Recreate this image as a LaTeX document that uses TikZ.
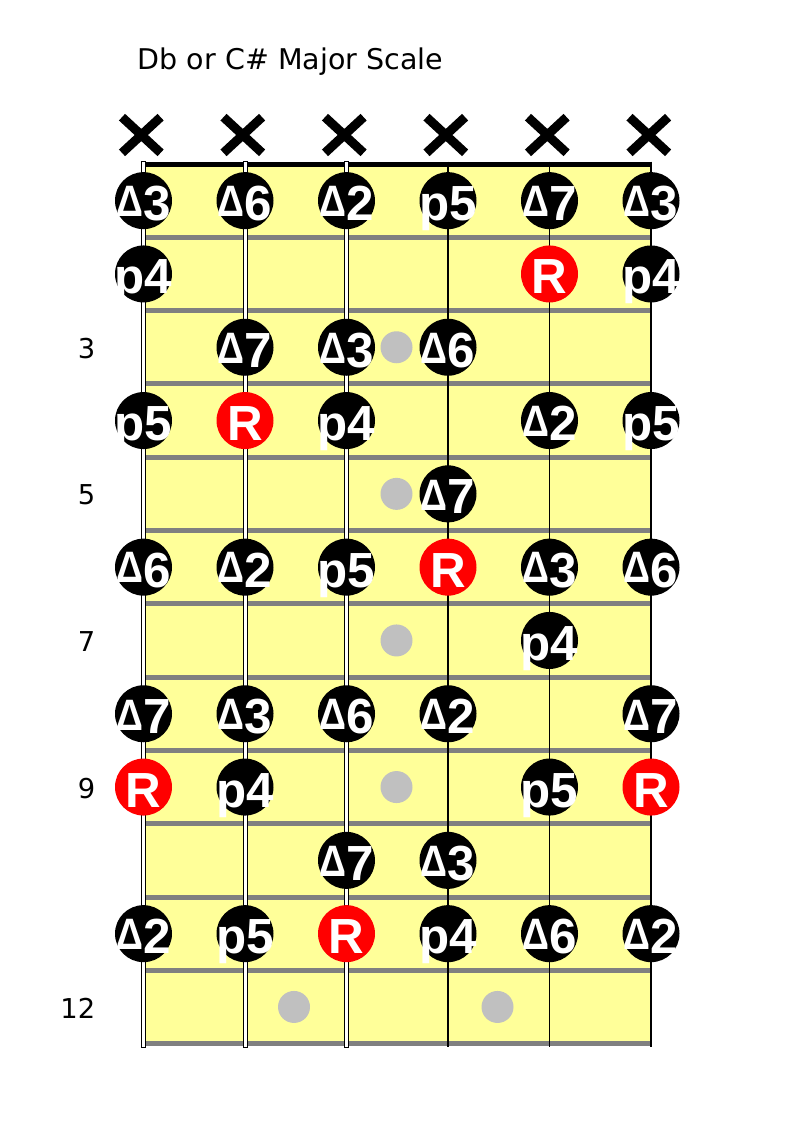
\documentclass[tikz,border=0pt]{standalone}
\usepackage{fontspec}
\newfontfamily\labfont{Liberation Sans}
\newfontfamily\titlefont{DejaVu Sans}
\usetikzlibrary{shapes.misc}
\definecolor{board}{RGB}{255,255,153}
\definecolor{fretgray}{RGB}{128,128,128}
\definecolor{dotgray}{RGB}{192,192,192}
\newsavebox\tribox
\newsavebox\digbox
\newcommand\tri[1]{%
  \sbox\tribox{\fontsize{33pt}{33pt}\selectfont\scalebox{0.85}[1]{Δ}}%
  \sbox\digbox{#1}%
  \raisebox{\dimexpr\ht\digbox-\ht\tribox\relax}{\usebox\tribox}\usebox\digbox}
\newcommand\notept[4]{%
  \node[#4] (n#1-#2) at ({143.5+101.5*(#2-1)}, {164+73.3*(#1-0.5)}) {};
  \node[lab] (t#1-#2) at ([yshift=-15pt]n#1-#2.center) {#3};}
\begin{document}
\begin{tikzpicture}[x=0.75pt,y=-0.75pt,
  note/.style={circle, fill=black, minimum size=42.75pt, inner sep=0pt},
  root/.style={note, fill=red},
  fretdot/.style={circle, fill=dotgray, minimum size=24pt, inner sep=0pt},
  lab/.style={text=white, font=\labfont\bfseries\fontsize{37pt}{37pt}\selectfont, inner sep=0pt, anchor=base},
  fretnum/.style={font=\titlefont\fontsize{20.5pt}{24pt}\selectfont, inner sep=0pt, anchor=base east},
  xmark/.style={cross out, draw=black, line width=6.75pt, minimum width=22.2pt, minimum height=20pt, inner sep=0pt},
  fretline/.style={fretgray, line width=3.75pt},
  wound/.style={fill=white, draw=black, line width=0.75pt},
  plain/.style={black, line width=1pt}]
\useasboundingbox (0,0) rectangle (792,1122);
% board
\fill[board] (143.5,164) rectangle (651,1044);
\foreach \n in {1,...,12}
  \draw[fretline] (143.5,{164+73.3*\n}) -- (651,{164+73.3*\n});
\draw[black, line width=3.75pt] (141.5,164) -- (652,164);
% strings
\foreach \s in {1,2,3}
  \draw[wound] ({143.5+101.5*(\s-1)-2},161.5) rectangle ({143.5+101.5*(\s-1)+2},1047);
\foreach \s in {4,5,6}
  \draw[plain] ({143.5+101.5*(\s-1)},161.5) -- ({143.5+101.5*(\s-1)},1047);
% fret markers
\node[fretdot] (d3) at (396.5,347.25) {};
\node[fretdot] (d5) at (396.5,493.85) {};
\node[fretdot] (d7) at (396.5,640.45) {};
\node[fretdot] (d9) at (396.5,787.05) {};
\node[fretdot] (d12a) at (294,1006.95) {};
\node[fretdot] (d12b) at (497.5,1006.95) {};
% notes
\notept{1}{1}{\tri{3}}{note}
\notept{1}{2}{\tri{6}}{note}
\notept{1}{3}{\tri{2}}{note}
\notept{1}{4}{p5}{note}
\notept{1}{5}{\tri{7}}{note}
\notept{1}{6}{\tri{3}}{note}
\notept{2}{1}{p4}{note}
\notept{2}{5}{R}{root}
\notept{2}{6}{p4}{note}
\notept{3}{2}{\tri{7}}{note}
\notept{3}{3}{\tri{3}}{note}
\notept{3}{4}{\tri{6}}{note}
\notept{4}{1}{p5}{note}
\notept{4}{2}{R}{root}
\notept{4}{3}{p4}{note}
\notept{4}{5}{\tri{2}}{note}
\notept{4}{6}{p5}{note}
\notept{5}{4}{\tri{7}}{note}
\notept{6}{1}{\tri{6}}{note}
\notept{6}{2}{\tri{2}}{note}
\notept{6}{3}{p5}{note}
\notept{6}{4}{R}{root}
\notept{6}{5}{\tri{3}}{note}
\notept{6}{6}{\tri{6}}{note}
\notept{7}{5}{p4}{note}
\notept{8}{1}{\tri{7}}{note}
\notept{8}{2}{\tri{3}}{note}
\notept{8}{3}{\tri{6}}{note}
\notept{8}{4}{\tri{2}}{note}
\notept{8}{6}{\tri{7}}{note}
\notept{9}{1}{R}{root}
\notept{9}{2}{p4}{note}
\notept{9}{5}{p5}{note}
\notept{9}{6}{R}{root}
\notept{10}{3}{\tri{7}}{note}
\notept{10}{4}{\tri{3}}{note}
\notept{11}{1}{\tri{2}}{note}
\notept{11}{2}{p5}{note}
\notept{11}{3}{R}{root}
\notept{11}{4}{p4}{note}
\notept{11}{5}{\tri{6}}{note}
\notept{11}{6}{\tri{2}}{note}
% muted string marks
\foreach \s in {1,...,6}
  \node[xmark] (x\s) at ({141.3+101.5*(\s-1)},135) {};
% title and fret numbers
\node[anchor=base west, inner sep=0pt, font=\titlefont\fontsize{21.4pt}{24pt}\selectfont] (title) at (137.5,69.3) {Db or C\# Major Scale};
\node[fretnum] (f3) at (95.5,358.3) {3};
\node[fretnum] (f5) at (95.5,504.9) {5};
\node[fretnum] (f7) at (95.5,651.5) {7};
\node[fretnum] (f9) at (95.5,798.1) {9};
\node[fretnum] (f12) at (95.5,1018) {12};
\end{tikzpicture}
\end{document}
